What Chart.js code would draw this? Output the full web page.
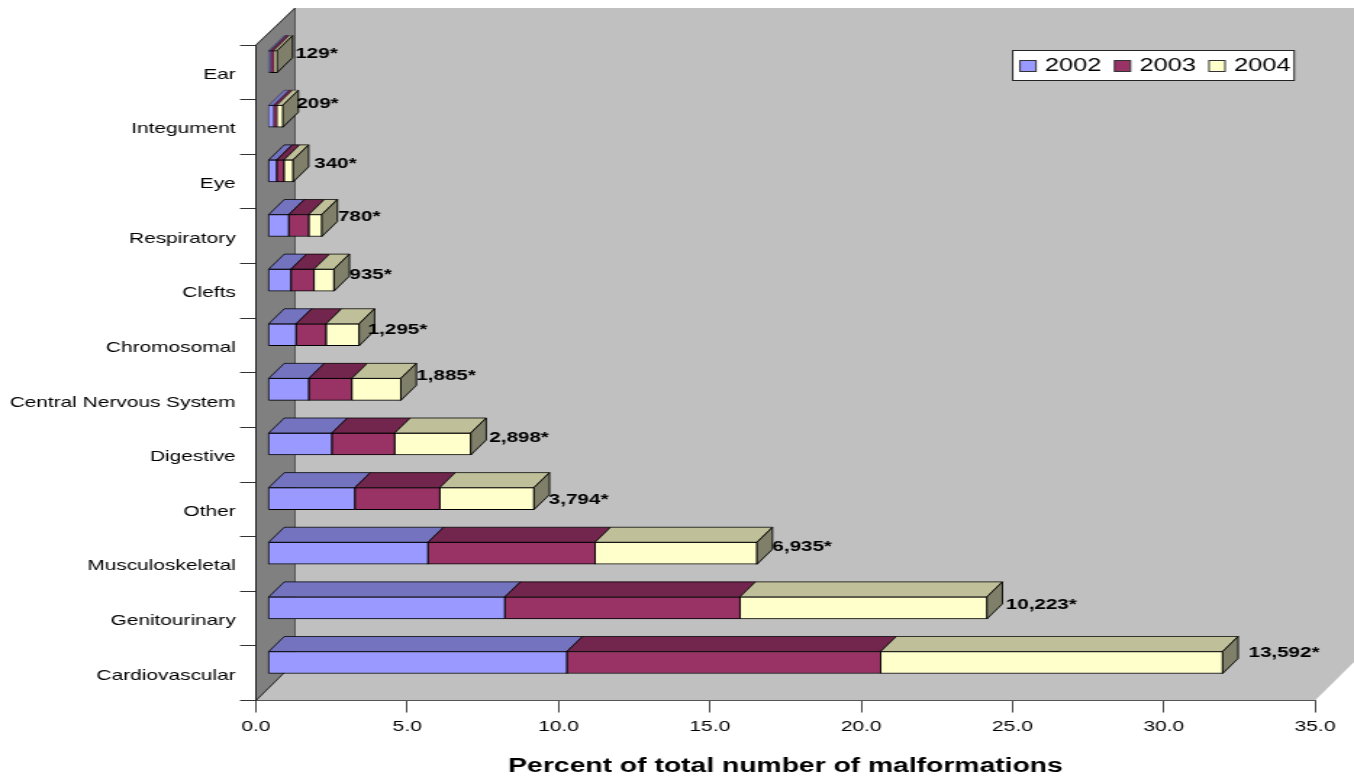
<!DOCTYPE html>
<html>
<head>
<meta charset="utf-8">
<title>Malformations by system</title>
<script src="https://cdn.jsdelivr.net/npm/chart.js@4/dist/chart.umd.min.js"></script>
<style>
  html, body { margin: 0; padding: 0; background: #fff; overflow: hidden; width: 1354px; height: 778px; }
  /* The whole figure is laid out narrow and widened as one, so glyphs widen with the bars. */
  #wrap { position: absolute; left: 0; top: 0; transform-origin: 0 0; transform: scaleX(1.44968); }
  canvas { display: block; }
</style>
</head>
<body>
<div id="wrap"><canvas id="chart" width="934" height="778"></canvas></div>
<script>
const categories = ['Ear', 'Integument', 'Eye', 'Respiratory', 'Clefts', 'Chromosomal',
  'Central Nervous System', 'Digestive', 'Other', 'Musculoskeletal', 'Genitourinary', 'Cardiovascular'];
const values2002 = [0.09, 0.19, 0.29, 0.69, 0.76, 0.93, 1.35, 2.11, 2.87, 5.29, 7.83, 9.88];
const values2003 = [0.11, 0.11, 0.24, 0.66, 0.76, 0.99, 1.42, 2.08, 2.81, 5.52, 7.77, 10.37];
const values2004 = [0.10, 0.19, 0.30, 0.43, 0.66, 1.09, 1.62, 2.51, 3.11, 5.35, 8.16, 11.30];
const countLabels = ['129*', '209*', '340*', '780*', '935*', '1,295*', '1,885*', '2,898*', '3,794*', '6,935*', '10,223*', '13,592*'];

// Hand placement of the count labels relative to the end of each bar.
const countNudgeX = [1.9, -1.4, 3.9, 0.5, 0, -4.7, 0, 2.2, -0.4, 0, 2.4, 7.2];
const countNudgeY = [-8, -12, -7, -8, -5, -5, -13, -6, 1, -6, -3, -9];

const SX = 1354 / 934;
const FONT = '"Liberation Sans", Arial, sans-serif';
const WALL_DX = 39 / SX, WALL_DY = 38.5;
const BAR_SHIFT_X = 12 / SX, BAR_SHIFT_Y = -10.7;
const BAR_DX = 15.5 / SX, BAR_DY = 15;

const series = [
  { label: '2002', data: values2002, front: '#9999ff', top: '#7373bf' },
  { label: '2003', data: values2003, front: '#993366', top: '#73264d' },
  { label: '2004', data: values2004, front: '#ffffcc', top: '#bfbf99' }
];
const SIDE_COLOR = '#80806a';

function poly(ctx, pts, fill, stroke, width) {
  ctx.beginPath();
  pts.forEach((p, i) => i ? ctx.lineTo(p[0], p[1]) : ctx.moveTo(p[0], p[1]));
  ctx.closePath();
  if (fill) { ctx.fillStyle = fill; ctx.fill(); }
  if (stroke) { ctx.strokeStyle = stroke; ctx.lineWidth = width || 0.9; ctx.stroke(); }
}

// Back wall, floor and side wall of the box the bars stand in.
const boxPlugin = {
  id: 'box',
  beforeDraw(chart) {
    const { ctx, chartArea: a } = chart;
    const topBack = a.top - 37, backBottom = a.bottom - WALL_DY, backLeft = a.left + WALL_DX, backRight = a.right + WALL_DX;
    ctx.save();
    poly(ctx, [[backLeft, topBack], [backRight, topBack], [backRight, backBottom], [a.right, a.bottom], [a.left, a.bottom], [backLeft, backBottom]], '#c0c0c0');
    poly(ctx, [[a.left, a.top], [backLeft, topBack], [backLeft, backBottom], [a.left, a.bottom]], '#808080');
    ctx.strokeStyle = '#555';
    ctx.lineWidth = 1;
    ctx.beginPath();
    ctx.moveTo(backLeft, topBack); ctx.lineTo(backLeft, backBottom);
    ctx.stroke();
    ctx.strokeStyle = '#222';
    ctx.beginPath();
    ctx.moveTo(a.left, a.top); ctx.lineTo(backLeft, topBack);
    ctx.moveTo(a.left, a.bottom); ctx.lineTo(backLeft, backBottom);
    ctx.stroke();
    ctx.restore();
  }
};

// Shifts the bars into the middle of the box depth and adds their top and end faces.
const depthPlugin = {
  id: 'depth',
  beforeDatasetsDraw(chart) {
    chart.ctx.save();
    chart.ctx.translate(BAR_SHIFT_X, BAR_SHIFT_Y);
  },
  afterDatasetsDraw(chart) {
    const ctx = chart.ctx;
    ctx.lineJoin = 'round';
    categories.forEach((_, row) => {
      let last = null;
      series.forEach((s, i) => {
        const bar = chart.getDatasetMeta(i).data[row];
        const top = bar.y - bar.height / 2, bottom = bar.y + bar.height / 2;
        // Narrow segments get hairlines so that their colour still shows.
        const edge = Math.abs(bar.x - bar.base) < 4 ? 0.35 : 0.75;
        poly(ctx, [[bar.base, top], [bar.x, top], [bar.x + BAR_DX, top - BAR_DY], [bar.base + BAR_DX, top - BAR_DY]], s.top, '#000', edge);
        ctx.strokeStyle = '#000';
        ctx.lineWidth = edge;
        ctx.beginPath();
        ctx.moveTo(bar.base, top); ctx.lineTo(bar.base, bottom);
        ctx.moveTo(bar.x, top); ctx.lineTo(bar.x, bottom);
        ctx.stroke();
        last = bar;
      });
      const t = last.y - last.height / 2, b = last.y + last.height / 2;
      poly(ctx, [[last.x, t], [last.x + BAR_DX, t - BAR_DY], [last.x + BAR_DX, b - BAR_DY], [last.x, b]], SIDE_COLOR, '#000');
    });
    // Count labels sit beside the end face of each bar.
    ctx.fillStyle = '#000';
    ctx.font = 'bold 14.2px ' + FONT;
    ctx.textAlign = 'left';
    ctx.textBaseline = 'middle';
    categories.forEach((_, row) => {
      const bar = chart.getDatasetMeta(2).data[row];
      ctx.fillText(countLabels[row], bar.x + BAR_DX + countNudgeX[row], bar.y + countNudgeY[row]);
    });
    ctx.restore();
  }
};

// Boxed key in the upper right of the back wall.
const keyPlugin = {
  id: 'key',
  afterDraw(chart) {
    const ctx = chart.ctx;
    const x = 1012.7 / SX, y = 50.5, w = 281.5 / SX, h = 30;
    const swatchX = [1020 / SX, 1114.5 / SX, 1209 / SX];
    ctx.save();
    ctx.fillStyle = '#fff';
    ctx.strokeStyle = '#222';
    ctx.lineWidth = 1;
    ctx.fillRect(x, y, w, h);
    ctx.strokeRect(x, y, w, h);
    ctx.font = '17.5px ' + FONT;
    ctx.textAlign = 'left';
    ctx.textBaseline = 'middle';
    series.forEach((s, i) => {
      ctx.fillStyle = s.front;
      ctx.strokeStyle = '#333';
      ctx.fillRect(swatchX[i], 60.5, 16 / SX, 11);
      ctx.strokeRect(swatchX[i], 60.5, 16 / SX, 11);
      ctx.fillStyle = '#000';
      ctx.fillText(s.label, swatchX[i] + 25 / SX, 66.5);
    });
    ctx.restore();
  }
};

new Chart(document.getElementById('chart'), {
  type: 'bar',
  data: {
    labels: categories,
    datasets: series.map(s => ({
      label: s.label,
      data: s.data,
      backgroundColor: s.front,
      borderColor: '#000',
      borderWidth: { top: 1, bottom: 1, left: 0, right: 0 },
      borderSkipped: false,
      barThickness: 22,
      clip: false
    }))
  },
  options: {
    indexAxis: 'y',
    responsive: false,
    animation: false,
    devicePixelRatio: 1,
    layout: { padding: { top: 45, right: 39 / SX, left: 0, bottom: 0 } },
    plugins: { legend: { display: false }, tooltip: { enabled: false }, title: { display: false } },
    scales: {
      x: {
        stacked: true,
        min: 0,
        max: 35,
        afterFit(scale) { scale.height = 77.5; },
        border: { color: '#555', width: 1 },
        grid: { drawOnChartArea: false, drawTicks: true, tickLength: 12, color: '#444' },
        ticks: {
          stepSize: 5,
          autoSkip: false,
          maxRotation: 0,
          padding: 6,
          color: '#000',
          font: { family: FONT, size: 14.5 },
          callback: v => Number(v).toFixed(1)
        },
        title: {
          display: true,
          text: 'Percent of total number of malformations',
          color: '#000',
          font: { family: FONT, size: 19.5, weight: 'bold' },
          padding: { top: 0, bottom: 0 }
        }
      },
      y: {
        stacked: true,
        afterFit(scale) { scale.width = 256 / SX; },
        border: { color: '#222', width: 1 },
        grid: { drawOnChartArea: false, drawTicks: true, tickLength: 11, color: '#333' },
        ticks: {
          autoSkip: false,
          padding: 3,
          labelOffset: 2.5,
          color: '#000',
          font: { family: FONT, size: 14.4 }
        }
      }
    }
  },
  plugins: [boxPlugin, depthPlugin, keyPlugin]
});
</script>
</body>
</html>
